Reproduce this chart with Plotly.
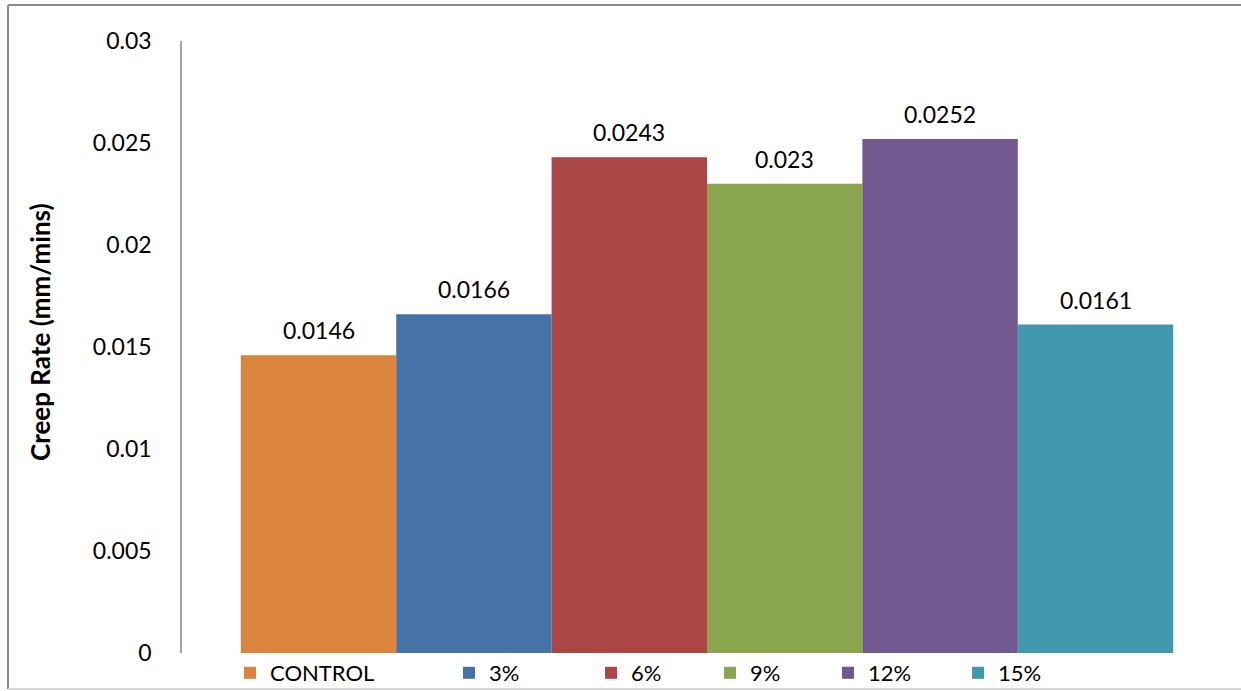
import plotly.graph_objects as go

# Creep rate per mix
series = ["CONTROL", "3%", "6%", "9%", "12%", "15%"]
creep_rate = [0.0146, 0.0166, 0.0243, 0.023, 0.0252, 0.0161]
colors = ["#DB843D", "#4572A7", "#AA4643", "#89A54E", "#71588F", "#4198AF"]
y_ticks = [0, 0.005, 0.01, 0.015, 0.02, 0.025, 0.03]
y_tick_labels = ["0", "0.005", "0.01", "0.015", "0.02", "0.025", "0.03"]

FONT = "Lato"

# plot-area geometry in pixels
W, H = 1241, 691
L, R, T, B = 182, 9, 41, 38
PW, PH = W - L - R, H - T - B


def px_x(px):
    return (px - L) / PW


def px_y(py):
    return (H - B - py) / PH


# legend item left edges (pixels) and shared vertical position
legend_px = [230, 449, 591, 710, 828, 958]
legend_x = [px_x(p) for p in legend_px]
legend_y = px_y(673)

fig = go.Figure()
legend_names = ["legend"] + [f"legend{i}" for i in range(2, 7)]
for name, val, col, lg in zip(series, creep_rate, colors, legend_names):
    fig.add_trace(go.Bar(
        x=["Creep Rate"], y=[val], name=name,
        marker=dict(color=col, line=dict(width=0)),
        legend=lg, hoverinfo="name+y",
    ))

# value labels above each bar
BARGAP = 0.112
offsets = [(i - 2.5) * (1 - BARGAP) / 6 for i in range(6)]
for off, val in zip(offsets, creep_rate):
    fig.add_annotation(
        x=off, y=val, xref="x", yref="y", text=f"{val:g}",
        showarrow=False, xanchor="center", yanchor="bottom", yshift=9,
        font=dict(family=FONT, size=23, color="#000000"),
    )

# axis title
fig.add_annotation(
    x=px_x(40), y=px_y(332), xref="paper", yref="paper",
    xanchor="center", yanchor="middle",
    text="<b>Creep Rate (mm/mins)</b>", textangle=-90, showarrow=False,
    font=dict(family=FONT, size=26, color="#000000"),
)

# chart frame
frame = "#8a8a8a"
fig.add_shape(type="line", xref="paper", yref="paper",
              x0=px_x(8), x1=px_x(1250), y0=px_y(5), y1=px_y(5),
              line=dict(color=frame, width=2))
fig.add_shape(type="line", xref="paper", yref="paper",
              x0=px_x(8), x1=px_x(8), y0=px_y(5), y1=px_y(689),
              line=dict(color=frame, width=2))
fig.add_shape(type="line", xref="paper", yref="paper",
              x0=px_x(8), x1=px_x(1250), y0=px_y(689), y1=px_y(689),
              line=dict(color="#d9d9d9", width=2))

legend_common = dict(
    orientation="h", yanchor="middle", xanchor="left",
    font=dict(family=FONT, size=22, color="#000000"),
    bgcolor="rgba(0,0,0,0)", borderwidth=0,
)
layout_legends = {}
for lg, lx in zip(legend_names, legend_x):
    layout_legends[lg] = dict(x=lx, y=legend_y, **legend_common)

fig.update_layout(
    width=W, height=H,
    margin=dict(l=L, r=R, t=T, b=B, autoexpand=False),
    paper_bgcolor="white", plot_bgcolor="white",
    barmode="group", bargap=BARGAP, bargroupgap=0,
    showlegend=True,
    font=dict(family=FONT, size=22, color="#000000"),
    xaxis=dict(type="category", range=[-0.5, 0.5], showticklabels=False,
               showgrid=False, zeroline=False, showline=False, ticks=""),
    yaxis=dict(range=[0, 0.03], tickvals=y_ticks, ticktext=y_tick_labels,
               showgrid=False, zeroline=False, showline=True,
               linecolor="#a6a6a6", linewidth=1.5, ticks="",
               ticklabelstandoff=24,
               tickfont=dict(family=FONT, size=23, color="#000000")),
    **layout_legends,
)

fig.write_html("out.html")
